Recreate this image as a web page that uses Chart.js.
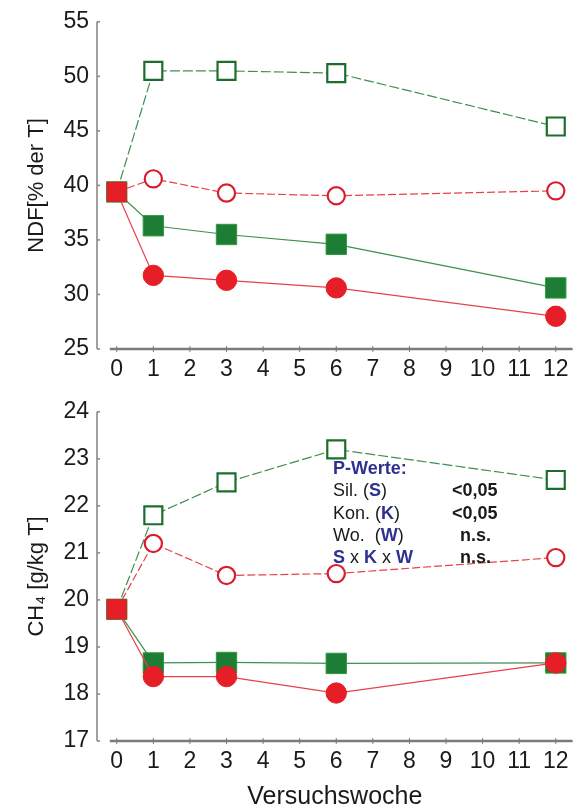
<!DOCTYPE html>
<html>
<head>
<meta charset="utf-8">
<script src="https://cdn.jsdelivr.net/npm/chart.js@4.4.0/dist/chart.umd.min.js"></script>
<style>
  html, body { margin: 0; padding: 0; background: #fff; }
  #wrap { position: relative; width: 588px; height: 810px; }
  canvas { position: absolute; left: 0; display: block; }
</style>
</head>
<body>
<div id="wrap">
  <canvas id="ndf" width="588" height="390" style="top:0"></canvas>
  <canvas id="ch4" width="588" height="420" style="top:390px"></canvas>
</div>
<script>
// weeks of the trial (x positions of the points)
const weeks = [0, 1, 3, 6, 12];
const xTickValues = [0, 1, 2, 3, 4, 5, 6, 7, 8, 9, 10, 11, 12];
const xTickLabels = ['0', '1', '2', '3', '4', '5', '6', '7', '8', '9', '10', '11', '12'];

// NDF [% der T]
const ndfOpenSquare   = [39.4, 50.5, 50.5, 50.3, 45.4];
const ndfOpenCircle   = [39.4, 40.6, 39.3, 39.05, 39.5];
const ndfFilledSquare = [39.4, 36.3, 35.5, 34.6, 30.6];
const ndfFilledCircle = [39.4, 31.75, 31.3, 30.6, 28.0];
const ndfTicks = [25, 30, 35, 40, 45, 50, 55];

// CH4 [g/kg T]
const ch4OpenSquare   = [19.8, 21.8, 22.5, 23.2, 22.55];
const ch4OpenCircle   = [19.8, 21.2, 20.52, 20.56, 20.9];
const ch4FilledSquare = [19.8, 18.66, 18.67, 18.65, 18.66];
const ch4FilledCircle = [19.8, 18.37, 18.37, 18.02, 18.66];
const ch4Ticks = [17, 18, 19, 20, 21, 22, 23, 24];

// P-Werte box
const pTitle = 'P-Werte:';
const pFactors = [
  [['Sil. (', 0], ['S', 1], [')', 0]],
  [['Kon. (', 0], ['K', 1], [')', 0]],
  [['Wo.  (', 0], ['W', 1], [')', 0]],
  [['S', 1], [' x ', 0], ['K', 1], [' x ', 0], ['W', 1]]
];
const pResults = ['<0,05', '<0,05', 'n.s.', 'n.s.'];

const FONT = "'Liberation Sans', Arial, sans-serif";
const GREEN = '#1e7d34';
const GREEN_LINE = '#3f8f4f';
const RED = '#e61e27';
const RED_LINE = '#e8414a';
const NAVY = '#2e3192';

function pts(vals) {
  return weeks.map((w, i) => ({ x: w, y: vals[i] }));
}

function makeDatasets(openSq, openCi, fillSq, fillCi) {
  return [
    {
      data: pts(fillCi), order: 1,
      borderColor: RED_LINE, borderWidth: 1.2,
      pointStyle: ['rect', 'circle', 'circle', 'circle', 'circle'],
      pointRadius: [13.6, 10.2, 10.2, 10.2, 10.2],
      pointBackgroundColor: RED, pointBorderColor: RED, pointBorderWidth: 1
    },
    {
      data: pts(fillSq), order: 2,
      borderColor: GREEN_LINE, borderWidth: 1.2,
      pointStyle: 'rect', pointRadius: 14.4,
      pointBackgroundColor: GREEN, pointBorderColor: '#2f9a40', pointBorderWidth: 1
    },
    {
      data: pts(openCi), order: 3,
      borderColor: RED_LINE, borderWidth: 1.2, borderDash: [8, 3],
      pointStyle: 'circle', pointRadius: 8.6,
      pointBackgroundColor: '#fff', pointBorderColor: '#d81e2c', pointBorderWidth: 2.2
    },
    {
      data: pts(openSq), order: 4,
      borderColor: GREEN_LINE, borderWidth: 1.2, borderDash: [10, 3],
      pointStyle: 'rect', pointRadius: 12.7,
      pointBackgroundColor: '#fff', pointBorderColor: '#1d6e2c', pointBorderWidth: 2.2
    }
  ];
}

// axis lines drawn by hand: the x axis starts a bit right of the y axis
const axisLines = {
  id: 'axisLines',
  afterDraw(chart) {
    const ctx = chart.ctx, a = chart.chartArea;
    const xs = chart.scales.x, ys = chart.scales.y;
    ctx.save();
    ctx.strokeStyle = '#8a8a8a';
    ctx.lineWidth = 1.6;
    ctx.beginPath();
    ctx.moveTo(a.left, a.top);
    ctx.lineTo(a.left, a.bottom);
    ctx.stroke();
    ys.ticks.forEach(t => {
      const y = ys.getPixelForValue(t.value);
      ctx.beginPath();
      ctx.moveTo(a.left, y);
      ctx.lineTo(a.left + 3, y);
      ctx.stroke();
    });
    ctx.strokeStyle = '#7a7a7a';
    ctx.lineWidth = 2.4;
    ctx.beginPath();
    ctx.moveTo(xs.getPixelForValue(-0.19), a.bottom);
    ctx.lineTo(a.right, a.bottom);
    ctx.stroke();
    ctx.lineWidth = 1;
    xs.ticks.forEach(t => {
      const x = xs.getPixelForValue(t.value);
      ctx.beginPath();
      ctx.moveTo(x, a.bottom - 3);
      ctx.lineTo(x, a.bottom + 3);
      ctx.stroke();
    });
    ctx.restore();
  }
};

const pBox = {
  id: 'pBox',
  afterDatasetsDraw(chart) {
    const ctx = chart.ctx, a = chart.chartArea;
    const x0 = a.left + 236, y0 = a.top + 57, dy = 22.4;
    ctx.save();
    ctx.textBaseline = 'middle';
    ctx.textAlign = 'left';
    ctx.font = 'bold 18px ' + FONT;
    ctx.fillStyle = NAVY;
    ctx.fillText(pTitle, x0, y0);
    pFactors.forEach((runs, i) => {
      let x = x0;
      const y = y0 + dy * (i + 1);
      runs.forEach(([txt, hi]) => {
        ctx.font = (hi ? 'bold ' : '') + '18px ' + FONT;
        ctx.fillStyle = hi ? NAVY : '#1a1a1a';
        ctx.fillText(txt, x, y);
        x += ctx.measureText(txt).width;
      });
      ctx.font = 'bold 18px ' + FONT;
      ctx.fillStyle = '#1a1a1a';
      const rx = pResults[i].startsWith('<') ? x0 + 119 : x0 + 127;
      ctx.fillText(pResults[i], rx, y);
    });
    ctx.restore();
  }
};

function makeChart(id, sets, yTicks, yTitle, xHeight, xTitle, extra) {
  return new Chart(document.getElementById(id), {
    type: 'line',
    data: { datasets: sets },
    plugins: [axisLines].concat(extra),
    options: {
      responsive: false,
      animation: false,
      events: [],
      clip: false,
      layout: { padding: { top: 16, right: 10, left: 0, bottom: 0 } },
      plugins: { legend: { display: false }, tooltip: { enabled: false } },
      scales: {
        x: {
          type: 'linear', min: -0.54, max: 12.46,
          afterBuildTicks: s => { s.ticks = xTickValues.map(v => ({ value: v })); },
          afterFit: s => { s.height = xHeight; },
          grid: { display: false, drawTicks: false },
          border: { display: false },
          ticks: {
            padding: 7, color: '#1a1a1a', maxRotation: 0, autoSkip: false,
            font: { family: FONT, size: 23 },
            callback: (v, i) => xTickLabels[i]
          },
          title: {
            display: !!xTitle, text: xTitle, color: '#1a1a1a',
            font: { family: FONT, size: 25, lineHeight: 1 },
            padding: { top: 0, bottom: 0 }
          }
        },
        y: {
          min: yTicks[0], max: yTicks[yTicks.length - 1],
          afterBuildTicks: s => { s.ticks = yTicks.map(v => ({ value: v })); },
          afterFit: s => { s.width = 97; },
          grid: { display: false, drawTicks: false },
          border: { display: false },
          ticks: { padding: 8, color: '#1a1a1a', font: { family: FONT, size: 23 } },
          title: {
            display: true, text: yTitle, color: '#1a1a1a',
            font: { family: FONT, size: 22 },
            padding: { top: 24, bottom: 0 }
          }
        }
      }
    }
  });
}

makeChart('ndf', makeDatasets(ndfOpenSquare, ndfOpenCircle, ndfFilledSquare, ndfFilledCircle),
  ndfTicks, 'NDF[% der T]', 41, '', []);
makeChart('ch4', makeDatasets(ch4OpenSquare, ch4OpenCircle, ch4FilledSquare, ch4FilledCircle),
  ch4Ticks, 'CH\u2084 [g/kg T]', 69, 'Versuchswoche', [pBox]);
</script>
</body>
</html>
